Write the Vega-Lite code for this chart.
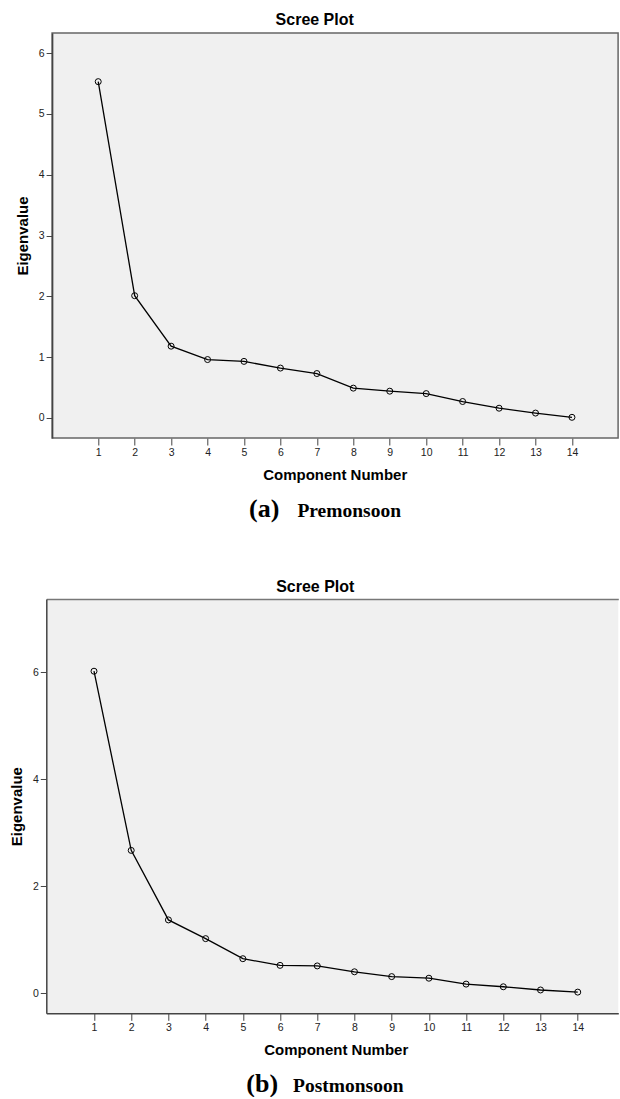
{
  "$schema": "https://vega.github.io/schema/vega-lite/v6.json",
  "background": "white",
  "padding": {"left": 9.3, "top": 12, "right": 0, "bottom": 0},
  "datasets": {
    "pre": [
      {"component": 1, "eigenvalue": 5.53},
      {"component": 2, "eigenvalue": 2.01},
      {"component": 3, "eigenvalue": 1.18},
      {"component": 4, "eigenvalue": 0.96},
      {"component": 5, "eigenvalue": 0.93},
      {"component": 6, "eigenvalue": 0.82},
      {"component": 7, "eigenvalue": 0.73},
      {"component": 8, "eigenvalue": 0.49},
      {"component": 9, "eigenvalue": 0.44},
      {"component": 10, "eigenvalue": 0.40},
      {"component": 11, "eigenvalue": 0.27},
      {"component": 12, "eigenvalue": 0.16},
      {"component": 13, "eigenvalue": 0.08},
      {"component": 14, "eigenvalue": 0.01}
    ],
    "post": [
      {"component": 1, "eigenvalue": 6.02},
      {"component": 2, "eigenvalue": 2.67},
      {"component": 3, "eigenvalue": 1.37},
      {"component": 4, "eigenvalue": 1.02},
      {"component": 5, "eigenvalue": 0.645},
      {"component": 6, "eigenvalue": 0.52},
      {"component": 7, "eigenvalue": 0.51},
      {"component": 8, "eigenvalue": 0.40},
      {"component": 9, "eigenvalue": 0.31},
      {"component": 10, "eigenvalue": 0.28},
      {"component": 11, "eigenvalue": 0.17},
      {"component": 12, "eigenvalue": 0.12},
      {"component": 13, "eigenvalue": 0.06},
      {"component": 14, "eigenvalue": 0.02}
    ],
    "panel": [{"panel": "Premonsoon"}]
  },
  "config": {
    "font": "Liberation Sans",
    "axis": {
      "domainColor": "#444", "domainWidth": 1.5, "tickColor": "#444", "tickWidth": 1,
      "labelColor": "#222", "labelFont": "Liberation Sans", "labelFontSize": 10.5,
      "titleFont": "Liberation Sans", "titleFontWeight": "bold", "titleFontSize": 15, "titleColor": "#000",
      "grid": false, "labelFlush": false, "labelOverlap": false
    },
    "title": {"font": "Liberation Sans", "fontSize": 16, "fontWeight": "bold", "color": "#000"},
    "view": {"fill": "#f0f0f0", "stroke": "#777", "strokeWidth": 1.5}
  },
  "spacing": 57,
  "vconcat": [
    {
      "width": 571.8,
      "height": 405,
      "title": {"text": "Scree Plot", "frame": "group", "dx": -17.5, "offset": 4},
      "view": {"fill": null, "stroke": null},
      "layer": [
        {"data": {"name": "panel"},
         "mark": {"type": "rect", "fill": "#f0f0f0", "stroke": "#666", "strokeWidth": 1.5},
         "encoding": {
           "x": {"datum": -0.266, "type": "quantitative", "axis": null},
           "x2": {"datum": 15.266},
           "y": {"datum": -0.33, "type": "quantitative", "axis": null},
           "y2": {"datum": 6.33}
         }},
        {"data": {"name": "pre"}, "mark": {"type": "line", "color": "#000", "strokeWidth": 1.3},
         "encoding": {
           "x": {"field": "component", "type": "quantitative",
             "scale": {"domain": [-0.425, 15.266], "nice": false, "zero": false},
             "axis": {"orient": "bottom", "domain": false, "values": [1,2,3,4,5,6,7,8,9,10,11,12,13,14], "title": "Component Number", "tickSize": 7, "labelPadding": 2, "titlePadding": 10, "titleX": 288.4}},
           "y": {"field": "eigenvalue", "type": "quantitative",
             "scale": {"domain": [-0.33, 6.33], "nice": false, "zero": false},
             "axis": {"orient": "left", "offset": -5.8, "zindex": 1, "values": [0,1,2,3,4,5,6], "title": "Eigenvalue", "tickSize": 6, "labelPadding": 2, "titlePadding": 8}}
         }},
        {"data": {"name": "pre"}, "mark": {"type": "point", "shape": "circle", "filled": false, "color": "#000", "size": 36, "strokeWidth": 1, "opacity": 1},
         "encoding": {
           "x": {"field": "component", "type": "quantitative",
             "axis": {"orient": "top", "domain": false, "ticks": false, "labels": false, "title": "(a)",
               "titleFont": "Liberation Serif", "titleFontSize": 26, "titleFontWeight": "bold", "titleColor": "#000",
               "titleAngle": 0, "titleAlign": "center", "titleBaseline": "alphabetic", "titleX": 217.4, "titleY": 483.7}},
           "y": {"field": "eigenvalue", "type": "quantitative",
             "axis": {"orient": "right", "domain": false, "ticks": false, "labels": false, "title": "Premonsoon",
               "titleFont": "Liberation Serif", "titleFontSize": 19.5, "titleFontWeight": "bold", "titleColor": "#000",
               "titleAngle": 0, "titleAlign": "center", "titleBaseline": "alphabetic", "titleX": -269.4, "titleY": 483.7}}
         }}
      ],
      "resolve": {"axis": {"x": "independent", "y": "independent"}}
    },
    {
      "width": 572,
      "height": 414.3,
      "title": {"text": "Scree Plot", "frame": "group", "dx": -17, "offset": 4},
      "view": {"stroke": null},
      "data": {"name": "post"},
      "layer": [
        {"mark": {"type": "line", "color": "#000", "strokeWidth": 1.3},
         "encoding": {
           "x": {"field": "component", "type": "quantitative",
             "scale": {"domain": [-0.282, 15.09], "nice": false, "zero": false},
             "axis": {"orient": "bottom", "values": [1,2,3,4,5,6,7,8,9,10,11,12,13,14], "title": "Component Number", "tickSize": 7, "labelPadding": 2, "titlePadding": 10, "titleX": 289.4}},
           "y": {"field": "eigenvalue", "type": "quantitative",
             "scale": {"domain": [-0.376, 7.37], "nice": false, "zero": false},
             "axis": {"orient": "left", "values": [0,2,4,6], "title": "Eigenvalue", "tickSize": 6, "labelPadding": 2, "titlePadding": 8}}
         }},
        {"mark": {"type": "point", "shape": "circle", "filled": false, "color": "#000", "size": 36, "strokeWidth": 1, "opacity": 1},
         "encoding": {
           "x": {"field": "component", "type": "quantitative",
             "axis": {"orient": "top", "domain": true, "domainColor": "#777", "ticks": false, "labels": false, "title": "(b)",
               "titleFont": "Liberation Serif", "titleFontSize": 26, "titleFontWeight": "bold", "titleColor": "#000",
               "titleAngle": 0, "titleAlign": "center", "titleBaseline": "alphabetic", "titleX": 215.4, "titleY": 492.7}},
           "y": {"field": "eigenvalue", "type": "quantitative",
             "axis": {"orient": "right", "domain": false, "ticks": false, "labels": false, "title": "Postmonsoon",
               "titleFont": "Liberation Serif", "titleFontSize": 19.5, "titleFontWeight": "bold", "titleColor": "#000",
               "titleAngle": 0, "titleAlign": "center", "titleBaseline": "alphabetic", "titleX": -270.5, "titleY": 492.7}}
         }}
      ],
      "resolve": {"axis": {"x": "independent", "y": "independent"}}
    }
  ]
}
